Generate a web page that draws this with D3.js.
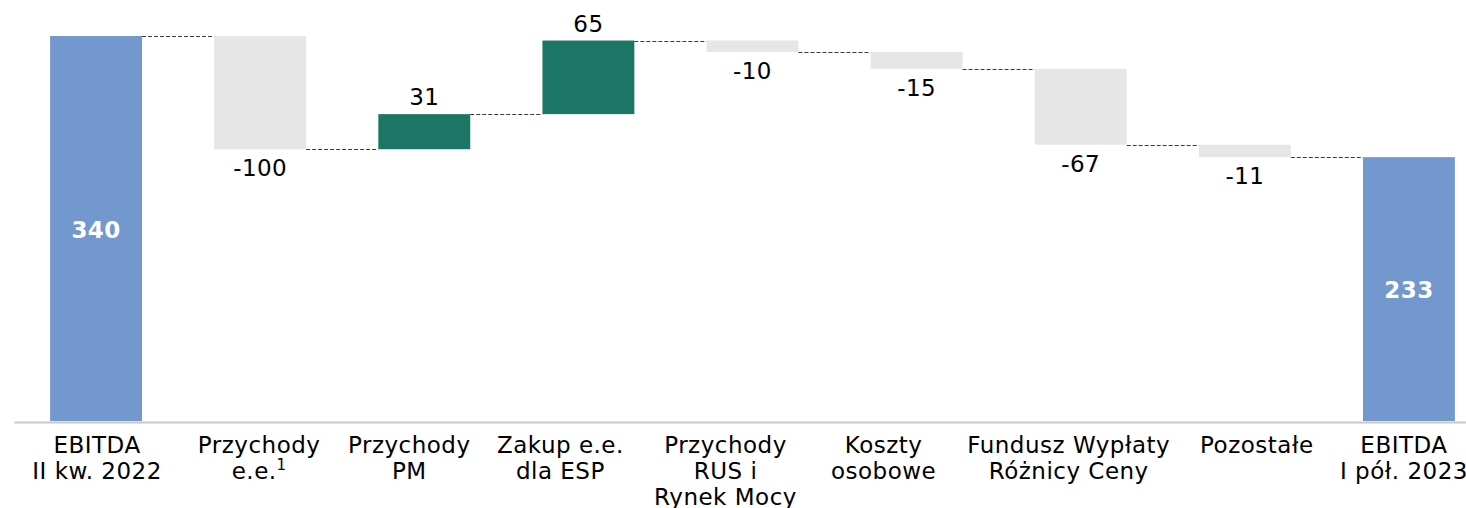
<!DOCTYPE html>
<html>
<head>
<meta charset="utf-8">
<script src="https://cdn.jsdelivr.net/npm/d3@7"></script>
<style>
  body { margin: 0; background: #fff; }
  svg { display: block; font-family: Verdana, "DejaVu Sans", sans-serif; }
</style>
</head>
<body>
<svg id="chart" width="1466" height="508"></svg>
<script>
// data
const categories = [
    ['EBITDA', 'II kw. 2022'],
    ['Przychody', 'e.e.'],
    ['Przychody', 'PM'],
    ['Zakup e.e.', 'dla ESP'],
    ['Przychody', 'RUS i', 'Rynek Mocy'],
    ['Koszty', 'osobowe'],
    ['Fundusz Wypłaty', 'Różnicy Ceny'],
    ['Pozostałe'],
    ['EBITDA', 'I pół. 2023']
]
const footnotes = ['', '1', '', '', '', '', '', '', '']
const values = [340, -100, 31, 65, -10, -15, -67, -11, 233]
const kinds = ['total', 'delta', 'delta', 'delta', 'delta', 'delta', 'delta', 'delta', 'total']

// the category labels in the original are not quite centred under their bars
const labelNudge = [1, -1, -15, -28, -27, -33, -12, 12, -5]

let svg = d3.select('#chart')

let baseY = 421

// running totals -> start/end of every bar
let running = 0
let bars = values.map((v, i) => {
    let b
    if (kinds[i] == 'total') {
        b = { i: i, v: v, start: 0, end: v, kind: 'total' }
        running = v
    } else {
        b = { i: i, v: v, start: running, end: running + v, kind: v < 0 ? 'neg' : 'pos' }
        running += v
    }
    return b
})

let x = d3.scaleBand()
    .domain(d3.range(values.length))
    .range([14, 1491])
    .paddingInner(0.44)
    .paddingOuter(0.22)

let y = d3.scaleLinear()
    .domain([0, 340])
    .range([baseY, 36])

let colors = { total: '#7398cd', neg: '#e6e6e6', pos: '#1b7666' }

// bars
svg.append('g')
    .selectAll('rect')
    .data(bars)
    .enter()
    .append('rect')
    .attr('x', (d) => x(d.i))
    .attr('width', x.bandwidth())
    .attr('y', (d) => y(Math.max(d.start, d.end)))
    .attr('height', (d) => Math.abs(y(d.start) - y(d.end)))
    .attr('fill', (d) => colors[d.kind])

// dashed connectors
svg.append('g')
    .selectAll('line')
    .data(bars.slice(0, -1))
    .enter()
    .append('line')
    .attr('x1', (d) => x(d.i) + x.bandwidth())
    .attr('x2', (d) => x(d.i + 1))
    .attr('y1', (d) => Math.round(y(d.end)) + 0.5)
    .attr('y2', (d) => Math.round(y(d.end)) + 0.5)
    .attr('stroke', '#3a3a3a')
    .attr('stroke-width', 1)
    .attr('stroke-dasharray', '4,2')

// axis
let axis = svg.append('g')
    .attr('transform', `translate(0,${baseY + 1})`)
    .call(d3.axisBottom(x).tickSize(0).tickFormat(''))
axis.select('.domain')
    .attr('stroke', '#c8c8c8')
    .attr('stroke-width', 2)

// category labels
let labels = svg.append('g')
    .selectAll('text')
    .data(categories)
    .enter()
    .append('text')
    .attr('text-anchor', 'middle')
    .attr('font-size', 23)
    .attr('letter-spacing', 0.5)
    .attr('fill', '#000')
    .attr('transform', (d, i) => `translate(${x(i) + x.bandwidth() / 2 + labelNudge[i]},453)`)

labels.each(function (lines, i) {
    let t = d3.select(this)
    lines.forEach((line, j) => {
        t.append('tspan')
            .attr('x', 0)
            .attr('y', j * 26)
            .text(line)
        if (j == lines.length - 1 && footnotes[i]) {
            t.append('tspan')
                .attr('font-size', 15)
                .attr('dy', -9)
                .text(footnotes[i])
        }
    })
})

// value labels
svg.append('g')
    .selectAll('text')
    .data(bars)
    .enter()
    .append('text')
    .attr('text-anchor', 'middle')
    .attr('font-size', 23)
    .attr('letter-spacing', 0.4)
    .attr('x', (d) => x(d.i) + x.bandwidth() / 2)
    .attr('y', (d) => {
        if (d.kind == 'total') return (y(d.end) + y(0)) / 2 + 9
        if (d.kind == 'neg') return y(d.end) + 27
        return y(d.end) - 9
    })
    .attr('fill', (d) => d.kind == 'total' ? '#fff' : '#000')
    .attr('font-weight', (d) => d.kind == 'total' ? 'bold' : 'normal')
    .text((d) => d.v)
</script>
</body>
</html>
